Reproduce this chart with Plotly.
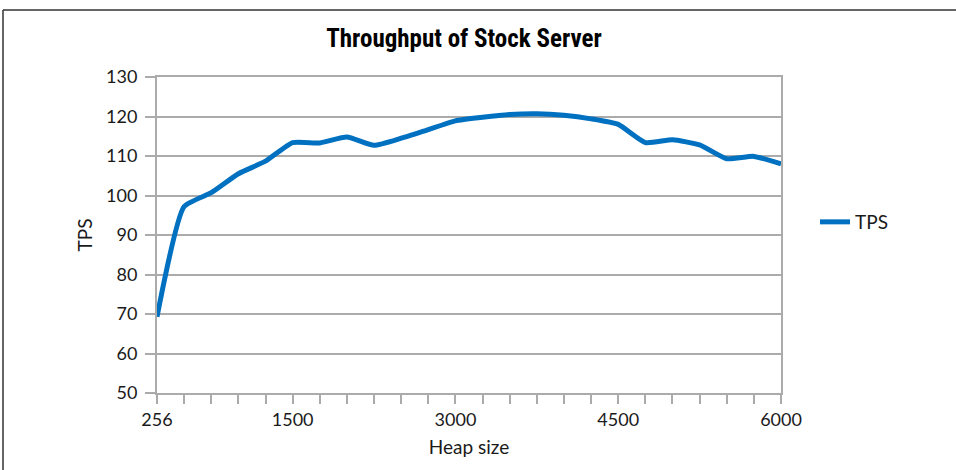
import plotly.graph_objects as go

heap_sizes = [256, 500, 750, 1000, 1250, 1500, 1750, 2000, 2250, 2500, 2750, 3000,
              3250, 3500, 3750, 4000, 4250, 4500, 4750, 5000, 5250, 5500, 5750, 6000]
tps = [69.3, 97.2, 100.7, 105.5, 108.7, 113.4, 113.3, 114.8, 112.7, 114.5, 116.7, 118.9,
       119.8, 120.5, 120.7, 120.3, 119.4, 118.0, 113.4, 114.1, 112.8, 109.3, 109.9, 108.0]
labeled_ticks = [256, 1500, 3000, 4500, 6000]
y_ticks = [50, 60, 70, 80, 90, 100, 110, 120, 130]

cats = [str(h) for h in heap_sizes]
tick_text = [str(h) if h in labeled_ticks else "" for h in heap_sizes]

FONT = "Lato, Carlito, 'Noto Sans', sans-serif"
GRAY = "#ABABAB"

fig = go.Figure()
fig.add_trace(go.Scatter(
    x=cats, y=tps, mode="lines", name="TPS",
    line=dict(color="#0070C0", width=5, shape="spline", smoothing=0.5),
))

L, R, T, B = 157, 175, 77, 77
W, H = 956, 470
pw, ph = W - L - R, H - T - B

def px(x):
    return (x - L) / pw

def py(y):
    return (H - B - y) / ph

fig.update_layout(
    width=W, height=H,
    margin=dict(l=L, r=R, t=T, b=B),
    paper_bgcolor="white", plot_bgcolor="white",
    font=dict(family=FONT, size=18, color="#1a1a1a"),
    title=dict(text="<b>Throughput of Stock Server</b>", x=px(464), xanchor="center",
               xref="paper", y=1 - 38 / H, yanchor="middle",
               font=dict(family="'Liberation Sans Narrow', 'Arial Narrow', 'Roboto Condensed', sans-serif",
                         size=25, color="#000000")),
    showlegend=True,
    legend=dict(x=px(815), y=py(222), xanchor="left", yanchor="middle",
                font=dict(family=FONT, size=19, color="#1a1a1a"),
                bgcolor="rgba(0,0,0,0)"),
    xaxis=dict(
        type="category", range=[0, len(cats) - 1],
        tickmode="array", tickvals=cats, ticktext=tick_text,
        ticks="outside", ticklen=9, tickwidth=2, tickcolor=GRAY,
        showline=True, linecolor=GRAY, linewidth=2, mirror=True,
        showgrid=False, zeroline=False,
        tickfont=dict(family=FONT, size=18, color="#1a1a1a"),
        title=dict(text="Heap size", font=dict(family=FONT, size=19, color="#1a1a1a"), standoff=12),
    ),
    yaxis=dict(
        range=[50, 130], tickmode="array", tickvals=y_ticks,
        ticks="outside", ticklen=10, tickwidth=2, tickcolor=GRAY,
        ticklabelstandoff=4,
        showline=True, linecolor=GRAY, linewidth=2, mirror=True,
        showgrid=True, gridcolor=GRAY, gridwidth=2, zeroline=False,
        tickfont=dict(family=FONT, size=18, color="#1a1a1a"),
        title=dict(text="TPS", font=dict(family=FONT, size=19, color="#1a1a1a"), standoff=8),
    ),
    shapes=[
        dict(type="line", xref="paper", yref="paper", x0=px(3), x1=px(956), y0=py(10), y1=py(10),
             line=dict(color="#333333", width=1.5)),
        dict(type="line", xref="paper", yref="paper", x0=px(3), x1=px(3), y0=py(10), y1=py(470),
             line=dict(color="#333333", width=1.5)),
    ],
)

fig.write_html("out.html", config={"displayModeBar": False},
               post_script="document.body.style.margin='0';document.body.style.overflow='hidden';")
